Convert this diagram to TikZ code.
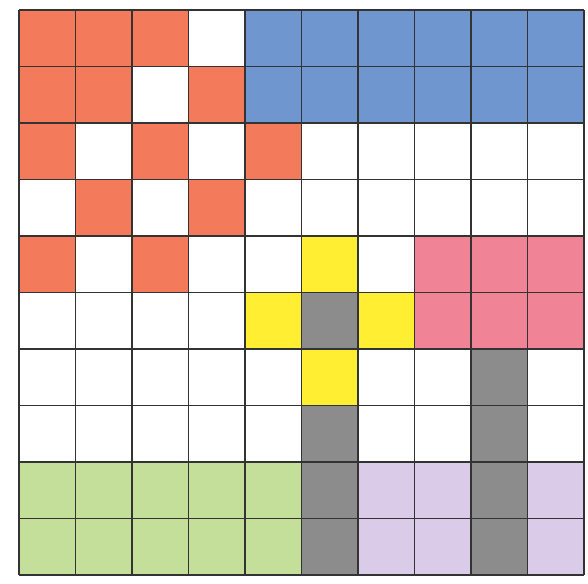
\documentclass[tikz,border=0pt]{standalone}
\definecolor{cellorange}{RGB}{243,122,90}
\definecolor{cellblue}{RGB}{112,150,208}
\definecolor{cellyellow}{RGB}{255,238,50}
\definecolor{cellpink}{RGB}{240,132,150}
\definecolor{cellgray}{RGB}{140,140,140}
\definecolor{cellgreen}{RGB}{196,223,154}
\definecolor{celllilac}{RGB}{218,204,232}

\begin{document}
\begin{tikzpicture}[yscale=-1]
  \useasboundingbox (-0.336,-0.177) rectangle (10.071,10.159);
  % Orange checker cells (column/row, counted from top left)
  \foreach \c/\r in {0/0,1/0,2/0,0/1,1/1,3/1,0/2,2/2,4/2,1/3,3/3,0/4,2/4} {
    \fill[cellorange] (\c,\r) rectangle ++(1,1);
  }
  % Blue block
  \fill[cellblue] (4,0) rectangle (10,2);
  % Yellow cross
  \foreach \c/\r in {5/4,4/5,6/5,5/6} {
    \fill[cellyellow] (\c,\r) rectangle ++(1,1);
  }
  % Pink block
  \fill[cellpink] (7,4) rectangle (10,6);
  % Gray columns
  \fill[cellgray] (5,5) rectangle (6,6);
  \fill[cellgray] (5,7) rectangle (6,10);
  \fill[cellgray] (8,6) rectangle (9,10);
  % Green block
  \fill[cellgreen] (0,8) rectangle (5,10);
  % Lilac cells
  \fill[celllilac] (6,8) rectangle (8,10);
  \fill[celllilac] (9,8) rectangle (10,10);
  % Grid
  \draw[black!80, line width=0.7pt] (0,0) grid (10,10);
\end{tikzpicture}
\end{document}
